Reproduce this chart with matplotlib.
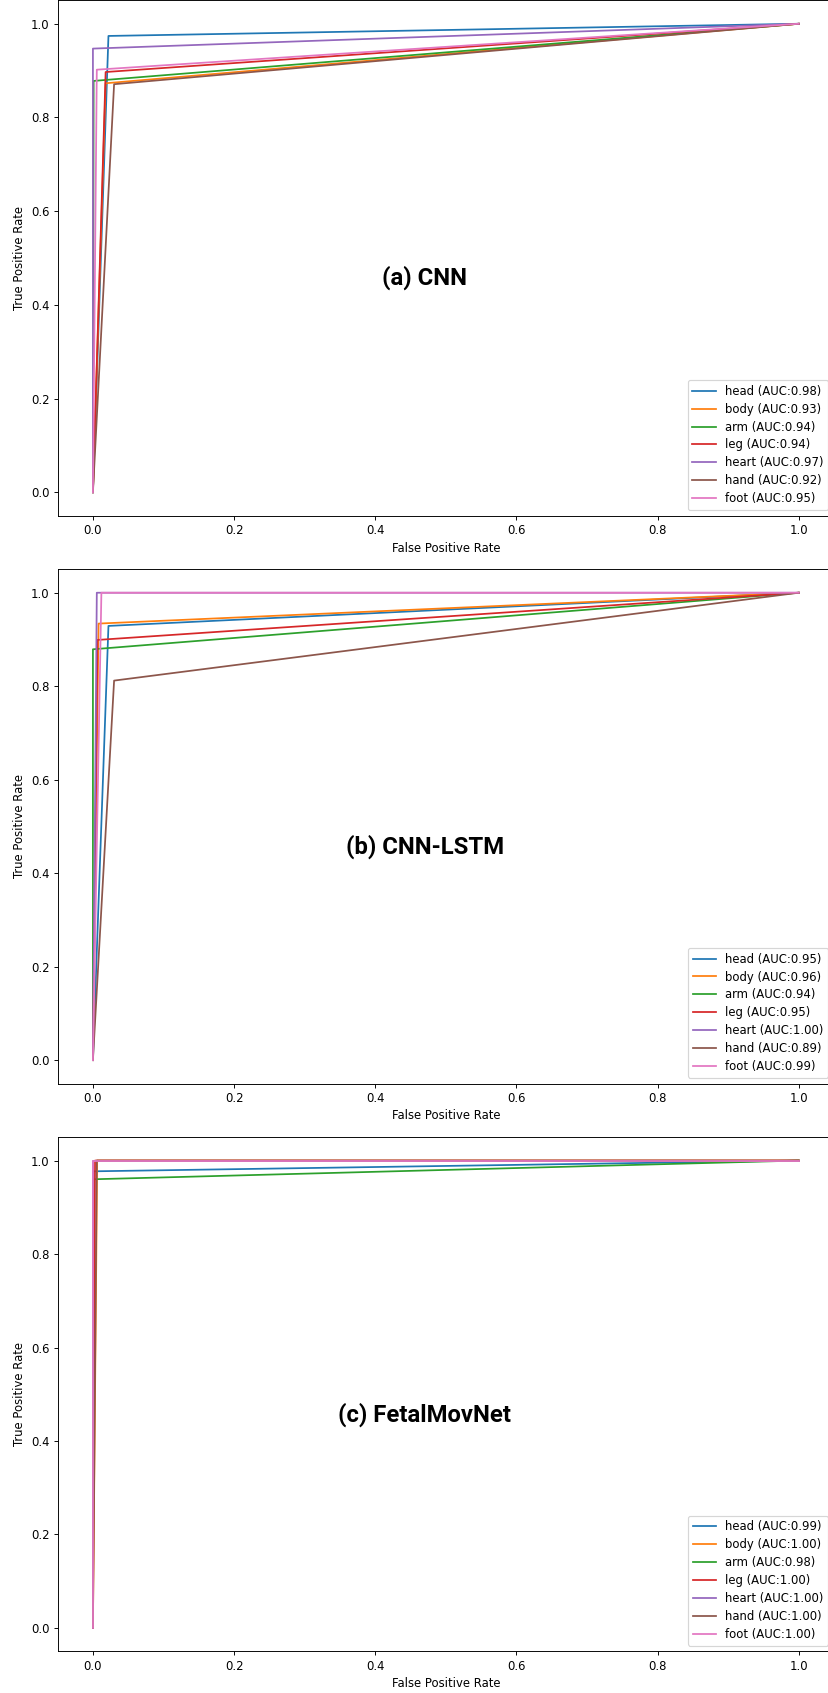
import numpy as np
import matplotlib.pyplot as plt

# 类别名称
parts = ['head', 'body', 'arm', 'leg', 'heart', 'hand', 'foot']

# 每个模型的 ROC 拐点 (fpr, tpr) 以及图例里的 AUC
cnn_fpr = [0.022, 0.018, 0.001, 0.018, 0.0, 0.030, 0.0055]
cnn_tpr = [0.974, 0.873, 0.878, 0.897, 0.947, 0.871, 0.902]
cnn_auc = [0.98, 0.93, 0.94, 0.94, 0.97, 0.92, 0.95]

lstm_fpr = [0.022, 0.008, 0.0, 0.0064, 0.0055, 0.030, 0.012]
lstm_tpr = [0.929, 0.934, 0.879, 0.899, 1.0, 0.812, 1.0]
lstm_auc = [0.95, 0.96, 0.94, 0.95, 1.00, 0.89, 0.99]

fmn_fpr = [0.001, 0.006, 0.001, 0.003, 0.0, 0.0055, 0.0]
fmn_tpr = [0.977, 1.0, 0.960, 1.0, 1.0, 1.0, 1.0]
fmn_auc = [0.99, 1.00, 0.98, 1.00, 1.00, 1.00, 1.00]

titles = ['(a) CNN', '(b) CNN-LSTM', '(c) FetalMovNet']

# 原图是缩小过的, 用较低的 dpi 让字体和线宽一起变小
dpi = 84
fig = plt.figure(figsize=(828 / dpi, 1693 / dpi), dpi=dpi)

# 三张图的位置 (右边超出画布, 和原图一样被裁掉)
positions = [
    [0.0696, 0.6954, 0.9377, 0.3044],
    [0.0696, 0.3600, 0.9377, 0.3037],
    [0.0696, 0.0246, 0.9377, 0.3037],
]

models = [
    (cnn_fpr, cnn_tpr, cnn_auc),
    (lstm_fpr, lstm_tpr, lstm_auc),
    (fmn_fpr, fmn_tpr, fmn_auc),
]

for pos, (fpr, tpr, auc), title in zip(positions, models, titles):
    ax = fig.add_axes(pos)
    for name, f, t, a in zip(parts, fpr, tpr, auc):
        ax.plot([0, f, 1], [0, t, 1], label=f'{name} (AUC:{a:.2f})')
    ax.set_xlabel('False Positive Rate')
    ax.set_ylabel('True Positive Rate')
    ax.legend(loc='lower right', labelspacing=0.42)
    ax.text(0.47, 0.457, title, ha='center', va='center',
            fontsize=20.5, fontweight='bold', family=['Roboto', 'DejaVu Sans'])

fig.savefig('out.png', dpi=dpi)
